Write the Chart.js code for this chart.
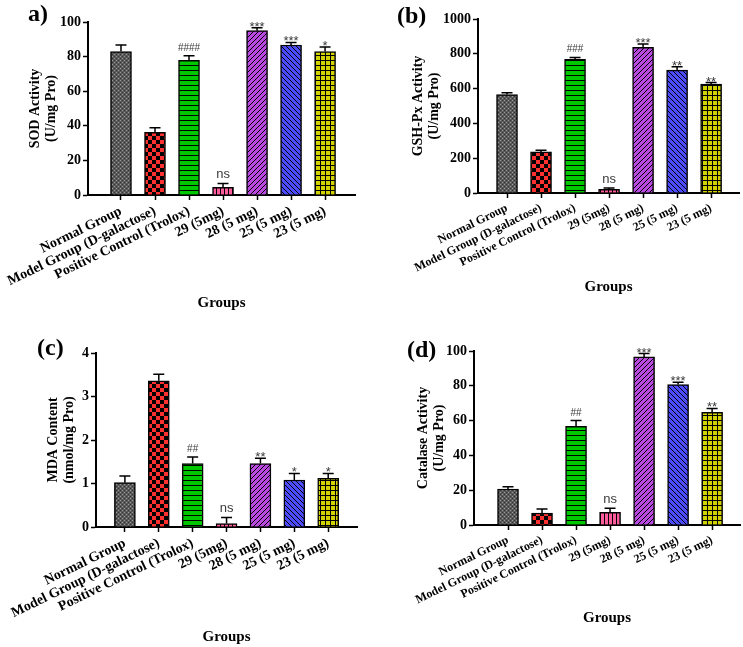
<!DOCTYPE html>
<html><head><meta charset="utf-8">
<script src="https://cdn.jsdelivr.net/npm/chart.js@4.4.1/dist/chart.umd.min.js"></script>
<style>
html,body{margin:0;padding:0;background:#fff;}
#wrap{position:relative;width:743px;height:647px;overflow:hidden;background:#fff;}
canvas{position:absolute;display:block;}
</style></head><body>
<div id="wrap">
<canvas id="ca" width="372" height="320" style="left:0;top:0"></canvas>
<canvas id="cb" width="371" height="320" style="left:372px;top:0"></canvas>
<canvas id="cc" width="372" height="327" style="left:0;top:320px"></canvas>
<canvas id="cd" width="371" height="327" style="left:372px;top:320px"></canvas>
</div>
<script>
// ---------- data ----------
const categories = ['Normal Group','Model Group (D-galactose)','Positive Control (Trolox)','29 (5mg)','28 (5 mg)','25 (5 mg)','23 (5 mg)'];

const sodValues = [82.9, 36.2, 77.8, 4.4, 95.0, 86.7, 82.9];
const sodErrors = [3.8, 2.7, 2.7, 2.3, 1.7, 1.5, 2.6];
const sodMarks  = ['', '', '####', 'ns', '***', '***', '*'];
const sodTicks  = [0, 20, 40, 60, 80, 100];

const gshValues = [566, 236, 768, 21, 837, 706, 626];
const gshErrors = [10, 10, 11, 8, 19, 19, 9];
const gshMarks  = ['', '', '###', 'ns', '***', '**', '**'];
const gshTicks  = [0, 200, 400, 600, 800, 1000];

const mdaValues = [1.02, 3.36, 1.46, 0.08, 1.46, 1.08, 1.12];
const mdaErrors = [0.15, 0.15, 0.15, 0.14, 0.12, 0.15, 0.11];
const mdaMarks  = ['', '', '##', 'ns', '**', '*', '*'];
const mdaTicks  = [0, 1, 2, 3, 4];

const catValues = [20.7, 6.9, 56.7, 7.3, 96.6, 80.7, 64.8];
const catErrors = [1.3, 2.3, 3.3, 2.3, 1.9, 1.3, 2.2];
const catMarks  = ['', '', '##', 'ns', '***', '***', '**'];
const catTicks  = [0, 20, 40, 60, 80, 100];

// ---------- patterns ----------
function makePattern(kind, base) {
  const c = document.createElement('canvas');
  const g = c.getContext('2d');
  let s = 4;
  if (kind === 'checker') s = 8;
  if (kind === 'hlines' || kind === 'grid' || kind === 'diagUp' || kind === 'diagDown') s = 5;
  c.width = c.height = s;
  g.fillStyle = base; g.fillRect(0, 0, s, s);
  g.fillStyle = '#000';
  if (kind === 'dots') {
    g.fillStyle = '#9a9a9a';
    g.fillRect(0, 0, 1, 1); g.fillRect(2, 2, 1, 1);
    g.fillStyle = '#333';
    g.fillRect(2, 0, 1, 1); g.fillRect(0, 2, 1, 1);
  } else if (kind === 'checker') {
    g.fillRect(0, 0, 4, 4); g.fillRect(4, 4, 4, 4);
  } else if (kind === 'hlines') {
    g.fillRect(0, 0, s, 1);
  } else if (kind === 'vlines') {
    g.fillRect(0, 0, 1, s);
  } else if (kind === 'diagUp') {
    for (let i = 0; i < s; i++) g.fillRect(i, s - 1 - i, 1, 1);
  } else if (kind === 'diagDown') {
    for (let i = 0; i < s; i++) g.fillRect(i, i, 1, 1);
  } else if (kind === 'grid') {
    g.fillRect(0, 0, s, 1); g.fillRect(0, 0, 1, s);
  }
  return g.createPattern(c, 'repeat');
}
const barFills = [
  makePattern('dots', '#5a5a5a'),
  makePattern('checker', '#ff3030'),
  makePattern('hlines', '#00c800'),
  makePattern('vlines', '#ff5c9e'),
  makePattern('diagUp', '#b84ae0'),
  makePattern('diagDown', '#4c4cff'),
  makePattern('grid', '#d2d200')
];

// ---------- plugin: error bars, marks, panel label ----------
const annotPlugin = {
  id: 'annot',
  afterDatasetsDraw(chart, args, o) {
    const ctx = chart.ctx, ys = chart.scales.y;
    const meta = chart.getDatasetMeta(0);
    ctx.save();
    ctx.strokeStyle = '#000'; ctx.lineWidth = 1.5;
    meta.data.forEach((bar, i) => {
      const top = ys.getPixelForValue(o.values[i] + o.errors[i]);
      ctx.beginPath();
      ctx.moveTo(bar.x, bar.y); ctx.lineTo(bar.x, top);
      ctx.moveTo(bar.x - 5.5, top); ctx.lineTo(bar.x + 5.5, top);
      ctx.stroke();
      const m = o.marks[i];
      if (m) {
        ctx.fillStyle = '#3a3a3a';
        ctx.textAlign = 'center'; ctx.textBaseline = 'alphabetic';
        if (m[0] === '#') { ctx.font = '10px "Liberation Sans"'; ctx.fillText(m, bar.x, top - 5); }
        else if (m[0] === '*') { ctx.font = '13px "Liberation Sans"'; ctx.fillText(m, bar.x, top + 3); }
        else { ctx.font = '13px "Liberation Sans"'; ctx.fillText(m, bar.x, top - 5); }
      }
    });
    ctx.fillStyle = '#000';
    ctx.font = 'bold 24px "Liberation Serif"';
    ctx.textAlign = 'left'; ctx.textBaseline = 'alphabetic';
    ctx.fillText(o.label, o.labelX, o.labelY);
    ctx.restore();
  }
};

const SERIF = '"Liberation Serif", "Times New Roman", serif';

function buildChart(id, p) {
  const cv = document.getElementById(id);
  return new Chart(cv, {
    type: 'bar',
    data: {
      datasets: [{
        data: p.values.map((v, i) => ({ x: i, y: v })),
        backgroundColor: barFills,
        borderColor: '#000',
        borderWidth: 1.5,
        barThickness: 21
      }]
    },
    plugins: [annotPlugin],
    options: {
      responsive: false,
      animation: false,
      devicePixelRatio: 1,
      layout: { padding: { left: 0, top: p.top, right: cv.width - p.right, bottom: p.padBottom } },
      plugins: {
        legend: { display: false },
        tooltip: { enabled: false },
        annot: { values: p.values, errors: p.errors, marks: p.marks, label: p.label, labelX: p.labelX, labelY: p.labelY }
      },
      scales: {
        x: {
          type: 'linear', position: 'bottom', min: p.xmin, max: p.xmax, offset: false,
          grid: { drawOnChartArea: false, offset: false, tickLength: 5, tickWidth: 1.5, color: '#000' },
          border: { color: '#000', width: 2 },
          afterBuildTicks: s => { s.ticks = categories.map((c, i) => ({ value: i })); },
          afterFit: s => { s.height = p.xHeight; },
          ticks: {
            autoSkip: false, minRotation: 26, maxRotation: 26, padding: 3,
            color: '#000', font: { family: SERIF, weight: 'bold', size: p.xFont },
            callback: v => categories[v]
          },
          title: { display: true, text: 'Groups', color: '#000', padding: 0,
                   font: { family: SERIF, weight: 'bold', size: 15, lineHeight: '18px' } }
        },
        y: {
          position: 'left', min: p.yTicks[0], max: p.yTicks[p.yTicks.length - 1],
          grid: { drawOnChartArea: false, tickLength: 5, tickWidth: 1.5, color: '#000' },
          border: { color: '#000', width: 2 },
          afterBuildTicks: s => { s.ticks = p.yTicks.map(v => ({ value: v })); },
          afterFit: s => { s.width = p.axisX; },
          ticks: { color: '#000', padding: 2, font: { family: SERIF, weight: 'bold', size: 14 },
                   callback: v => String(v) },
          title: { display: true, text: p.yTitle, color: '#000', padding: { top: p.yTitlePad, bottom: 0 },
                   font: { family: SERIF, weight: 'bold', size: 14, lineHeight: '16px' } }
        }
      }
    }
  });
}

buildChart('ca', { values: sodValues, errors: sodErrors, marks: sodMarks, yTicks: sodTicks,
  yTitle: ['SOD Activity', '(U/mg Pro)'], top: 22, right: 355, axisX: 88, xHeight: 117, padBottom: 8,
  xmin: -0.97, xmax: 6.88, yTitlePad: 27, xFont: 14, label: 'a)', labelX: 28, labelY: 21 });

buildChart('cb', { values: gshValues, errors: gshErrors, marks: gshMarks, yTicks: gshTicks,
  yTitle: ['GSH-Px Activity', '(U/mg Pro)'], top: 19, right: 367, axisX: 106, xHeight: 103, padBottom: 24,
  xmin: -0.853, xmax: 6.82, yTitlePad: 38, xFont: 12, label: '(b)', labelX: 25, labelY: 23 });

buildChart('cc', { values: mdaValues, errors: mdaErrors, marks: mdaMarks, yTicks: mdaTicks,
  yTitle: ['MDA Content', '(nmol/mg Pro)'], top: 33, right: 357, axisX: 96, xHeight: 119, padBottom: 1,
  xmin: -0.853, xmax: 6.85, yTitlePad: 45, xFont: 14, label: '(c)', labelX: 37, labelY: 35 });

buildChart('cd', { values: catValues, errors: catErrors, marks: catMarks, yTicks: catTicks,
  yTitle: ['Catalase Activity', '(U/mg Pro)'], top: 31, right: 368, axisX: 102, xHeight: 102, padBottom: 20,
  xmin: -1.0, xmax: 6.82, yTitlePad: 43, xFont: 12, label: '(d)', labelX: 35, labelY: 37 });
</script>
</body></html>
